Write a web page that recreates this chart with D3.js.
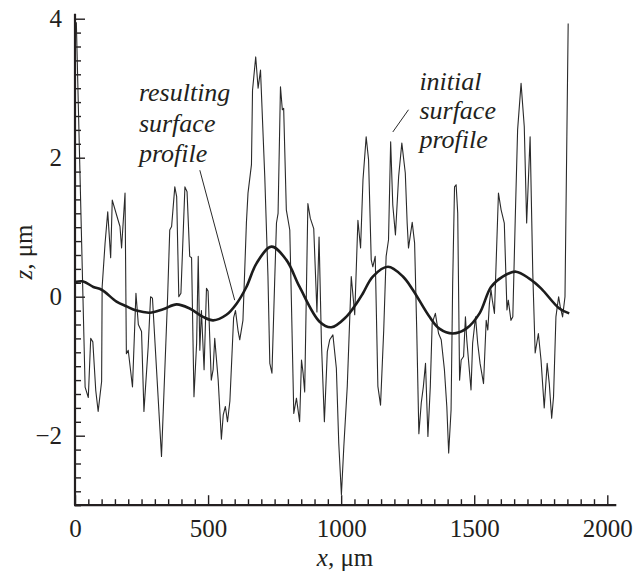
<!DOCTYPE html>
<html>
<head>
<meta charset="utf-8">
<script src="https://cdn.jsdelivr.net/npm/d3@7"></script>
</head>
<body style="margin:0; background:#fff">
<script>
// initial surface profile (thin line), x in um, z in um
var initialX = [5, 38, 50, 59, 67, 78, 87, 100, 102, 113, 123, 134, 140, 162, 169, 175, 188, 193, 200, 216,
  229, 238, 250, 259, 275, 284, 291, 325, 348, 356, 363, 375, 382, 390, 398, 413, 421, 431, 438, 447,
  457, 463, 469, 475, 485, 494, 500, 512, 519, 525, 538, 550, 557, 565, 573, 582, 596, 603, 613, 619,
  631, 644, 650, 663, 667, 679, 688, 697, 713, 725, 732, 740, 750, 757, 763, 772, 779, 784, 794, 807,
  813, 822, 832, 844, 851, 857, 863, 875, 884, 897, 909, 917, 926, 937, 948, 957, 969, 982, 991, 1001,
  1010, 1023, 1038, 1051, 1063, 1073, 1082, 1094, 1103, 1113, 1119, 1128, 1138, 1148, 1160, 1169, 1178, 1186, 1194, 1204,
  1216, 1228, 1241, 1248, 1253, 1267, 1276, 1284, 1292, 1301, 1309, 1317, 1326, 1335, 1342, 1354, 1366, 1376, 1388, 1397,
  1404, 1413, 1419, 1426, 1432, 1438, 1445, 1451, 1460, 1467, 1472, 1488, 1494, 1505, 1513, 1522, 1535, 1545, 1551, 1557,
  1563, 1568, 1576, 1591, 1601, 1613, 1623, 1628, 1638, 1645, 1654, 1663, 1676, 1688, 1697, 1710, 1720, 1729, 1741, 1751,
  1763, 1774, 1782, 1791, 1798, 1807, 1817, 1823, 1832, 1841, 1853];
var initialZ = [3.95, -1.3, -1.45, -0.6, -0.65, -1.35, -1.65, -1.22, 0.14, 0.77, 1.22, 0.56, 1.39, 1.10, 1.01, 0.70, 1.49, -0.82, -0.77, -1.3,
  0.05, -0.4, -0.5, -1.65, -0.72, 0.0, -0.02, -2.30, 0.0, 0.96, 1.01, 1.58, 1.44, 0.0, 0.05, 1.58, 1.51, 0.58, 0.56, -1.44,
  -0.67, 0.58, -0.77, -0.2, -1.05, 0.12, 0.08, -1.2, -1.05, -0.6, -1.2, -2.05, -1.7, -1.58, -1.8, -1.5, -0.3, -0.2, -0.5, -0.62,
  -0.34, 1.06, 1.49, 1.90, 2.97, 3.45, 3.00, 3.26, 1.73, 0.29, -0.96, -1.10, 0.19, 1.06, 1.20, 3.02, 2.69, 2.71, 1.25, 0.96,
  -0.05, -1.68, -1.46, -1.80, -0.91, -1.10, -1.37, 1.34, 1.13, 0.98, -0.22, 0.86, -0.67, -1.80, -0.79, -0.62, -0.55, -1.03, -2.11, -2.85,
  -2.16, -1.29, 0.29, -0.26, 1.10, 0.70, 1.68, 2.30, 1.97, 0.53, 0.43, 0.58, -1.29, -1.56, -0.48, 0.58, 0.82, 2.23, 1.32, 0.89,
  1.73, 2.21, 1.78, 1.06, 0.70, 1.07, 0.77, -0.48, -1.97, -1.53, -1.29, -0.96, -2.01, -1.29, -0.38, -0.24, -0.53, -0.62, -1.05, -1.58,
  -2.25, -1.63, 0.19, 1.58, 1.61, 1.20, -1.20, -0.91, -0.86, -0.29, -0.62, -1.34, -0.67, -0.29, -0.67, -0.96, -1.25, -0.34, -0.48, -0.10,
  0.10, -0.05, -0.24, 1.49, 1.25, 1.06, -0.19, -0.05, -0.34, -0.29, 1.10, 2.40, 3.07, 2.45, 1.06, 2.30, 0.34, -0.81, -0.53, -0.91,
  -1.60, -0.96, -1.25, -1.75, -1.44, -0.29, 0.0, -0.14, -0.29, 0.0, 3.93];

// resulting surface profile (thick line)
var resultX = [0, 31, 69, 100, 156, 194, 231, 281, 331, 382, 431, 481, 519, 569, 607, 644, 682, 738, 794, 844,
  919, 963, 1019, 1057, 1082, 1119, 1176, 1232, 1269, 1332, 1369, 1419, 1470, 1520, 1563, 1607, 1657, 1707, 1751, 1820, 1857];
var resultZ = [0.21, 0.22, 0.14, 0.10, -0.07, -0.14, -0.20, -0.23, -0.18, -0.11, -0.17, -0.29, -0.34, -0.26, -0.10, 0.14, 0.48, 0.72, 0.53, 0.14,
  -0.36, -0.44, -0.29, -0.10, 0.05, 0.29, 0.43, 0.29, 0.10, -0.29, -0.46, -0.53, -0.46, -0.24, 0.14, 0.29, 0.36, 0.26, 0.12, -0.17, -0.24];

// ticks and labels
var xMajor = [0, 500, 1000, 1500, 2000];
var yMajor = [-2, 0, 2, 4];
var resultLabel = ["resulting", "surface", "profile"];
var initialLabel = ["initial", "surface", "profile"];
var resultLeader = [[469, 1.82], [600, -0.05]];
var initialLeader = [[1253, 2.69], [1194, 2.37]];

var serif = "'Liberation Serif'";
var ink = "#231f20";

var W = 639, H = 575;
var svg = d3.select("body").append("svg")
    .attr("width", W)
    .attr("height", H)
    .style("display", "block")
    .style("font-family", serif, "important");

var x = d3.scaleLinear().domain([0, 2000]).range([75, 607.3]);
var y = d3.scaleLinear().domain([-3, 4]).range([505.2, 18.7]);

var xMinor = d3.range(0, 2001, 50).filter(function (d) { return d % 500 !== 0; });
var yMinor = d3.range(-30, 41, 2).map(function (d) { return d / 10; })
    .filter(function (d) { return d % 2 !== 0; });

// minor ticks (inward)
svg.append("g")
    .attr("transform", "translate(0," + y(-3) + ")")
    .call(d3.axisBottom(x).tickValues(xMinor).tickSize(-6).tickFormat(""))
    .call(function (g) { g.select(".domain").remove(); });
svg.append("g")
    .attr("transform", "translate(" + x(0) + ",0)")
    .call(d3.axisLeft(y).tickValues(yMinor).tickSize(-6).tickFormat(""))
    .call(function (g) { g.select(".domain").remove(); });

// major ticks with labels
var gx = svg.append("g")
    .attr("transform", "translate(0," + y(-3) + ")")
    .call(d3.axisBottom(x).tickValues(xMajor).tickSize(-10).tickPadding(14).tickFormat(d3.format("d")));
var gy = svg.append("g")
    .attr("transform", "translate(" + x(0) + ",0)")
    .call(d3.axisLeft(y).tickValues(yMajor).tickSize(-10).tickPadding(13).tickFormat(d3.format("d")));

[gx, gy].forEach(function (g) {
    g.select(".domain").remove();
    g.attr("font-family", null).attr("font-size", null);
    g.selectAll("text")
        .attr("font-size", 25)
        .style("font-family", serif, "important")
        .attr("fill", ink);
});
svg.selectAll(".tick line").attr("stroke", ink).attr("stroke-width", 1.4);

// axis lines, a little longer than the last tick
svg.append("line")
    .attr("x1", x(0)).attr("x2", x(0))
    .attr("y1", y(-3)).attr("y2", y(4) - 5)
    .attr("stroke", ink).attr("stroke-width", 2.2);
svg.append("line")
    .attr("x1", x(0) - 1).attr("x2", x(2000) + 9)
    .attr("y1", y(-3)).attr("y2", y(-3))
    .attr("stroke", ink).attr("stroke-width", 2.2);

// profiles
var thin = d3.line()
    .x(function (d, i) { return x(initialX[i]); })
    .y(function (d) { return y(d); });
svg.append("path")
    .attr("d", thin(initialZ))
    .attr("fill", "none")
    .attr("stroke", "#2a2a2a")
    .attr("stroke-width", 1.1)
    .attr("stroke-linejoin", "round");

var thick = d3.line()
    .x(function (d, i) { return x(resultX[i]); })
    .y(function (d) { return y(d); })
    .curve(d3.curveCatmullRom);
svg.append("path")
    .attr("d", thick(resultZ))
    .attr("fill", "none")
    .attr("stroke", "#1c1c1c")
    .attr("stroke-width", 2.6);

// annotations
function annotate(lines, ux, uz, step) {
    var t = svg.append("text")
        .attr("font-size", 26)
        .attr("font-style", "italic")
        .attr("fill", ink)
        .style("font-family", serif, "important");
    t.selectAll("tspan").data(lines).enter().append("tspan")
        .attr("x", x(ux))
        .attr("y", function (d, i) { return y(uz) + i * step; })
        .style("font-family", serif, "important")
        .text(function (d) { return d; });
}
annotate(resultLabel, 240, 2.81, 30.5);
annotate(initialLabel, 1294, 2.97, 29);

var leader = d3.line()
    .x(function (d) { return x(d[0]); })
    .y(function (d) { return y(d[1]); });
[resultLeader, initialLeader].forEach(function (l) {
    svg.append("path")
        .attr("d", leader(l))
        .attr("fill", "none")
        .attr("stroke", "#2a2a2a")
        .attr("stroke-width", 1);
});

// axis titles
var xt = svg.append("text")
    .attr("x", 345).attr("y", 566)
    .attr("text-anchor", "middle")
    .attr("font-size", 25)
    .attr("fill", ink)
    .style("font-family", serif, "important");
xt.append("tspan").attr("font-style", "italic").style("font-family", serif, "important").text("x");
xt.append("tspan").style("font-family", serif, "important").text(", \u03bcm");

var yt = svg.append("text")
    .attr("transform", "translate(32,252) rotate(-90)")
    .attr("text-anchor", "middle")
    .attr("font-size", 25)
    .attr("fill", ink)
    .style("font-family", serif, "important");
yt.append("tspan").attr("font-style", "italic").style("font-family", serif, "important").text("z");
yt.append("tspan").style("font-family", serif, "important").text(", \u03bcm");
</script>
</body>
</html>
